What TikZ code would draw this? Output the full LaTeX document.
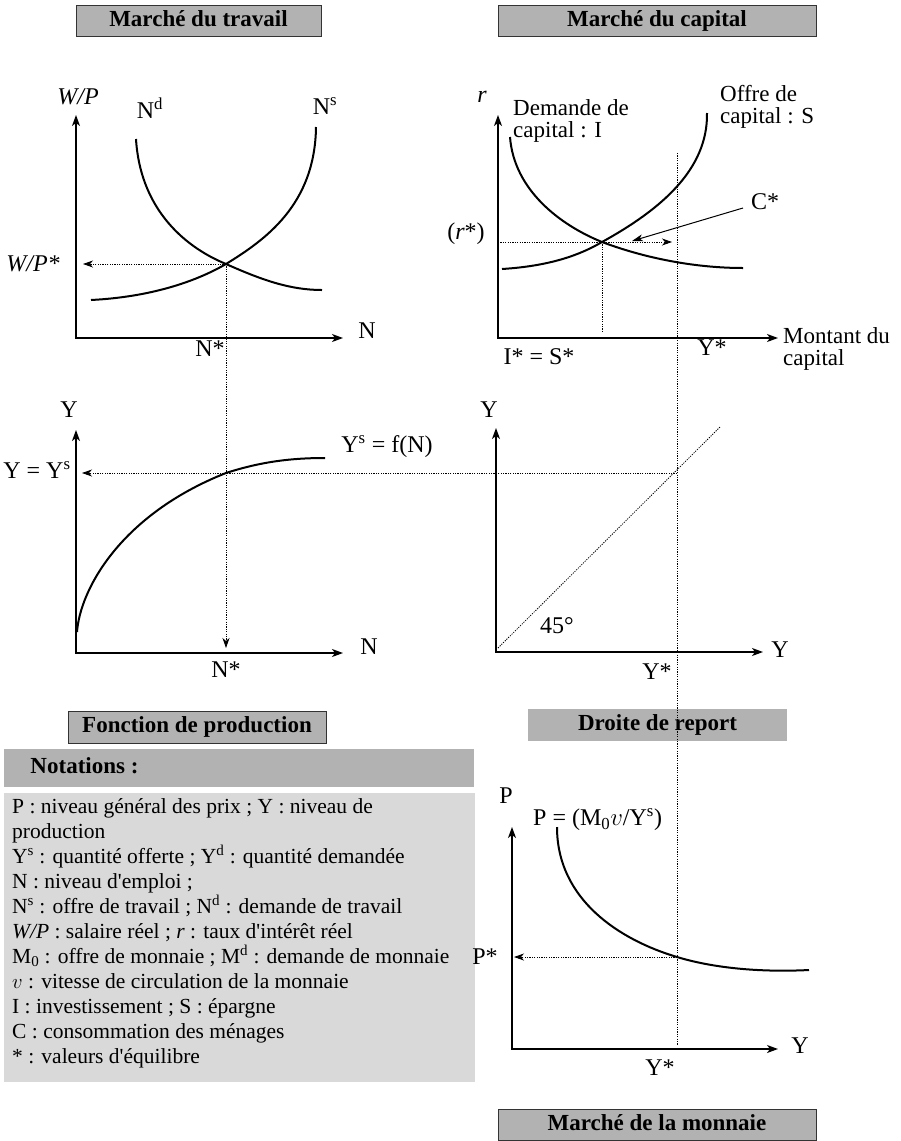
\documentclass[tikz,border=0pt]{standalone}
\usepackage{fontspec}
\setmainfont{Liberation Serif}[Ligatures=TeXOff]
\usetikzlibrary{arrows.meta}
\begin{document}
\begin{tikzpicture}[x=1pt,y=-1pt,
  axes/.style={line width=1.3pt, {Stealth[length=11pt,width=8pt,inset=3pt]}-{Stealth[length=11pt,width=8pt,inset=3pt]}},
  crv/.style={line width=2pt},
  dotl/.style={line width=0.8pt, dash pattern=on 1.2pt off 1.2pt},
  dotar/.style={dotl, -{Stealth[length=10pt,width=7pt,inset=3pt]}},
  thinar/.style={line width=1pt, -{Stealth[length=11pt,width=7pt,inset=3pt]}},
  lbl/.style={font=\fontsize{24}{26}\selectfont, inner sep=0pt},
  lblw/.style={inner sep=0pt, anchor=west, align=left, font=\fontsize{23}{21.5}\selectfont},
  tbox/.style={fill=gray!60, draw=black!80, line width=1pt, font=\fontsize{23}{25}\selectfont\bfseries, inner sep=0pt, text height=16pt, text depth=5pt},
  tboxn/.style={tbox, draw=none},
  notebody/.style={font=\fontsize{21.5}{25}\selectfont, inner sep=0pt, anchor=north west, align=left}
]
\useasboundingbox (0,0) rectangle (900,1141);

% ---------- boxes ----------
\node[tbox, minimum width=245pt, minimum height=31pt] (t1) at (198.5,20.5) {Marché du travail};
\node[tbox, minimum width=318pt, minimum height=31pt] (t2) at (657,20.5) {Marché du capital};
\node[tbox, minimum width=258pt, minimum height=32pt] (t3) at (197,727) {Fonction de production};
\node[tboxn, minimum width=259pt, minimum height=32pt] (t4) at (657.5,725) {Droite de report};
\node[tbox, minimum width=318pt, minimum height=31pt] (t5) at (657,1124.5) {Marché de la monnaie};
\fill[gray!60] (4,749) rectangle (474,787);
\node[tboxn, anchor=west] (nh) at (30,768) {Notations :};
\fill[gray!30] (4,793) rectangle (475,1082);
\node[notebody] (nb) at (12,798) {P : niveau général des prix ; Y : niveau de\\
production\\
Y\textsuperscript{s} : quantité offerte ; Y\textsuperscript{d} : quantité demandée\\
N : niveau d'emploi ;\\
N\textsuperscript{s} : offre de travail ; N\textsuperscript{d} : demande de travail\\
\textit{W/P} : salaire réel ; \textit{r} : taux d'intérêt réel\\
M\textsubscript{0} : offre de monnaie ; M\textsuperscript{d} : demande de monnaie\\
$v$ : vitesse de circulation de la monnaie\\
I : investissement ; S : épargne\\
C : consommation des ménages\\
* : valeurs d'équilibre};

% ---------- coordinates ----------
\coordinate (o1) at (76,338); \coordinate (y1) at (76,115); \coordinate (x1) at (343,338);
\coordinate (e1) at (226,264); \coordinate (wp) at (83,264);
\coordinate (nd0) at (136,139); \coordinate (nd1) at (322,290);
\coordinate (ns0) at (91,300); \coordinate (ns1) at (316,127);
\coordinate (nst) at (226,648);

\coordinate (o2) at (498,338); \coordinate (y2) at (498,115); \coordinate (x2) at (778,338);
\coordinate (e2) at (602,242); \coordinate (rs0) at (498,242); \coordinate (rs1) at (672,242);
\coordinate (d0) at (510,137); \coordinate (d1) at (743,268);
\coordinate (s0) at (502,269); \coordinate (s1) at (707,113);
\coordinate (is) at (602,331);
\coordinate (c0) at (743,208); \coordinate (c1) at (632,241);
\coordinate (v0) at (677,153); \coordinate (v1) at (677,1045);

\coordinate (o3) at (76,653); \coordinate (y3) at (76,430); \coordinate (x3) at (343,653);
\coordinate (f0) at (77,632); \coordinate (e3) at (226,473); \coordinate (f1) at (325,458);
\coordinate (ys) at (82,473);

\coordinate (o4) at (496,652); \coordinate (y4) at (496,428); \coordinate (x4) at (763,652);
\coordinate (e4) at (677,473); \coordinate (l0) at (498,648); \coordinate (l1) at (720,427);

\coordinate (o5) at (512,1049); \coordinate (y5) at (512,827); \coordinate (x5) at (778,1049);
\coordinate (m0) at (557,827); \coordinate (e5) at (677,957); \coordinate (m1) at (809,970);
\coordinate (ps) at (514,957);

% ---------- dotted guides ----------
\draw[dotar] (e1) -- (wp);
\draw[dotar] (e1) -- (nst);
\draw[dotar] (rs0) -- (rs1);
\draw[dotl] (e2) -- (is);
\draw[dotl] (v0) -- (v1);
\draw[dotar] (e4) -- (ys);
\draw[dotl] (l0) -- (l1);
\draw[dotar] (e5) -- (ps);
\draw[thinar] (c0) -- (c1);

% ---------- axes ----------
\draw[axes] (y1) -- (o1) -- (x1);
\draw[axes] (y2) -- (o2) -- (x2);
\draw[axes] (y3) -- (o3) -- (x3);
\draw[axes] (y4) -- (o4) -- (x4);
\draw[axes] (y5) -- (o5) -- (x5);

% ---------- curves ----------
\draw[crv] (nd0) .. controls (140,205) and (180,245) .. (e1) .. controls (262,280) and (290,290) .. (nd1);
\draw[crv] (ns0) .. controls (150,297) and (195,282) .. (e1) .. controls (265,240) and (315,205) .. (ns1);
\draw[crv] (d0) .. controls (514,190) and (560,225) .. (e2) .. controls (650,260) and (700,268) .. (d1);
\draw[crv] (s0) .. controls (550,266) and (580,255) .. (e2) .. controls (660,210) and (708,170) .. (s1);
\draw[crv] (f0) .. controls (80,590) and (120,515) .. (e3) .. controls (260,462) and (290,458) .. (f1);
\draw[crv] (m0) .. controls (557,900) and (620,940) .. (e5) .. controls (720,970) and (770,972) .. (m1);

% ---------- labels ----------
\node[lbl] (lwp) at (78,97) {\textit{W/P}};
\node[lbl] (lnd) at (150,108) {N\textsuperscript{d}};
\node[lbl] (lns) at (325,106) {N\textsuperscript{s}};
\node[lbl] (lwps) at (33,264) {\textit{W/P*}};
\node[lbl] (ln1) at (367,331) {N};
\node[lbl] (lnst1) at (210,349) {N*};

\node[lbl] (lr) at (482,97) {\textit{r}};
\node[lblw] (ldem) at (513,121) {Demande de\\capital : I};
\node[lblw] (loff) at (720,107) {Offre de\\capital : S};
\node[lbl] (lc) at (765,202) {C*};
\node[lbl] (lrs) at (466,234) {(\textit{r}*)};
\node[lbl] (lis) at (539,357) {I* = S*};
\node[lbl] (lys1) at (712,348) {Y*};
\node[lblw] (lmc) at (783,349) {Montant du\\capital};

\node[lbl] (ly3) at (69,410) {Y};
\node[lbl] (lyys) at (37,470) {Y = Y\textsuperscript{s}};
\node[lbl] (lfn) at (387,447) {Y\textsuperscript{s} = f(N)};
\node[lbl] (ln3) at (369,647) {N};
\node[lbl] (lnst3) at (226,670) {N*};

\node[lbl] (ly4) at (489,410) {Y};
\node[lbl] (lyx4) at (780,650) {Y};
\node[lbl] (l45) at (557,626) {45°};
\node[lbl] (lys4) at (657,672) {Y*};

\node[lbl] (lp) at (506,796) {P};
\node[lbl, anchor=west] (lpf) at (533,820) {P = (M\textsubscript{0}$v$/Y\textsuperscript{s})};
\node[lbl] (lps) at (485,957) {P*};
\node[lbl] (lyx5) at (800,1046) {Y};
\node[lbl] (lys5) at (660,1068) {Y*};
\end{tikzpicture}
\end{document}
